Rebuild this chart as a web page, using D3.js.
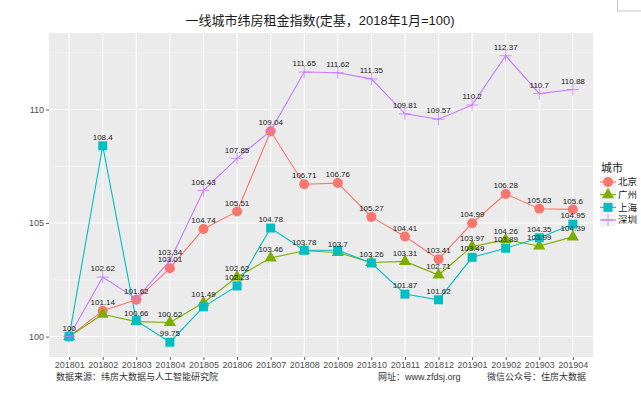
<!DOCTYPE html>
<html>
<head>
<meta charset="utf-8">
<script src="https://cdn.jsdelivr.net/npm/d3@7"></script>
<style>
  body { margin: 0; background: #fff; }
  svg { display: block; }
</style>
</head>
<body>
<svg id="drawspace" width="641" height="393"></svg>
<script>
let months = ["201801", "201802", "201803", "201804", "201805", "201806", "201807", "201808",
  "201809", "201810", "201811", "201812", "201901", "201902", "201903", "201904"];
let cities = ["北京", "广州", "上海", "深圳"];
let beijing = [100, 101.14, 101.62, 103.01, 104.74, 105.51, 109.04, 106.71, 106.76, 105.27, 104.41, 103.41, 104.99, 106.28, 105.63, 105.6];
let guangzhou = [100, 100.98, 100.66, 100.62, 101.49, 102.62, 103.46, 103.78, 103.7, 103.26, 103.31, 102.71, 103.97, 104.26, 103.99, 104.39];
let shanghai = [100, 108.4, 100.7, 99.75, 101.31, 102.23, 104.78, 103.8, 103.8, 103.24, 101.87, 101.62, 103.49, 103.89, 104.35, 104.95];
let shenzhen = [100, 102.62, 101.66, 103.34, 106.43, 107.85, 109.06, 111.65, 111.62, 111.35, 109.81, 109.57, 110.2, 112.37, 110.7, 110.88];
let yTicks = [100, 105, 110];
let yMinor = [102.5, 107.5, 112.5];
let colors = ["#F8766D", "#7CAE00", "#00BFC4", "#C77CFF"];
let shapes = ["circle", "triangle", "square", "plus"];

let seriesValues = [beijing, guangzhou, shanghai, shenzhen];
let series = cities.map((c, i) => ({
  city: c,
  color: colors[i],
  shape: shapes[i],
  values: seriesValues[i].map((v, j) => ({ month: months[j], value: v }))
}));

let svg = d3.select("#drawspace");
let panel = { left: 49, right: 593, top: 33, bottom: 357 };
let numFont = "'Liberation Sans', Arial, sans-serif";
let cjkFont = "'Liberation Sans', 'Noto Sans CJK SC', sans-serif";

let x = d3.scalePoint().domain(months).range([panel.left, panel.right]).padding(0.6);
let y = d3.scaleLinear().domain([99.1, 113.37]).range([panel.bottom, panel.top]);

// small box in the top right corner
svg.append("rect").attr("x", 617.5).attr("y", -1).attr("width", 30).attr("height", 12)
  .attr("fill", "none").attr("stroke", "#c8c8c8");

// title
svg.append("text").attr("x", 320).attr("y", 25).attr("text-anchor", "middle")
  .attr("font-family", cjkFont).attr("font-size", 13).attr("fill", "#1a1a1a")
  .text("一线城市纬房租金指数(定基，2018年1月=100)");

// panel + grid
svg.append("rect").attr("x", panel.left).attr("y", panel.top)
  .attr("width", panel.right - panel.left).attr("height", panel.bottom - panel.top)
  .attr("fill", "#EBEBEB");

let grid = svg.append("g");
grid.selectAll(".minor").data(yMinor).enter().append("line")
  .attr("x1", panel.left).attr("x2", panel.right)
  .attr("y1", (d) => y(d)).attr("y2", (d) => y(d))
  .attr("stroke", "#fff").attr("stroke-width", 0.5);
grid.selectAll(".major").data(yTicks).enter().append("line")
  .attr("x1", panel.left).attr("x2", panel.right)
  .attr("y1", (d) => y(d)).attr("y2", (d) => y(d))
  .attr("stroke", "#fff").attr("stroke-width", 1);
grid.selectAll(".vert").data(months).enter().append("line")
  .attr("x1", (d) => x(d)).attr("x2", (d) => x(d))
  .attr("y1", panel.top).attr("y2", panel.bottom)
  .attr("stroke", "#fff").attr("stroke-width", 1);

// axes
let yAxis = svg.append("g").attr("transform", "translate(" + panel.left + ",0)")
  .call(d3.axisLeft(y).tickValues(yTicks).tickSize(3).tickPadding(2).tickFormat(d3.format("d")));
let xAxis = svg.append("g").attr("transform", "translate(0," + panel.bottom + ")")
  .call(d3.axisBottom(x).tickSize(3).tickPadding(2));
[xAxis, yAxis].forEach((a) => {
  a.select(".domain").remove();
  a.selectAll(".tick line").attr("stroke", "#333").attr("stroke-width", 0.8);
  a.selectAll(".tick text").attr("fill", "#4D4D4D").attr("font-size", 9).attr("font-family", numFont);
});

// lines
let line = d3.line().x((d) => x(d.month)).y((d) => y(d.value));
svg.append("g").selectAll("path").data(series).enter().append("path")
  .attr("d", (d) => line(d.values))
  .attr("fill", "none")
  .attr("stroke", (d) => d.color)
  .attr("stroke-width", 1.1);

// point shapes
function drawShape(g, shape, color, cx, cy) {
  if (shape == "circle") {
    g.append("circle").attr("cx", cx).attr("cy", cy).attr("r", 5).attr("fill", color);
  } else if (shape == "triangle") {
    let r = 7;
    g.append("path")
      .attr("d", `M${cx},${cy - r} L${cx + r * 0.866},${cy + r / 2} L${cx - r * 0.866},${cy + r / 2} Z`)
      .attr("fill", color);
  } else if (shape == "square") {
    g.append("rect").attr("x", cx - 4.5).attr("y", cy - 4.5).attr("width", 9).attr("height", 9).attr("fill", color);
  } else {
    g.append("path")
      .attr("d", `M${cx - 6},${cy} H${cx + 6} M${cx},${cy - 6} V${cy + 6}`)
      .attr("stroke", color).attr("stroke-width", 0.8).attr("fill", "none");
  }
}

let pts = svg.append("g");
series.forEach((s) => {
  s.values.forEach((d) => drawShape(pts, s.shape, s.color, x(d.month), y(d.value)));
});

// value labels, skipping ones that overlap an earlier label
let labelG = svg.append("g");
let kept = [];
let nudge = 0.38;
series.forEach((s) => {
  s.values.forEach((d) => {
    let cx = x(d.month), cy = y(d.value + nudge);
    let t = labelG.append("text")
      .attr("x", cx).attr("y", cy).attr("dy", "0.35em")
      .attr("text-anchor", "middle")
      .attr("font-family", numFont).attr("font-size", 8).attr("fill", "#1a1a1a")
      .text(d3.format("")(+d.value.toFixed(2)));
    let w = t.node().getComputedTextLength();
    let box = { x0: cx - w / 2, x1: cx + w / 2, y0: cy - 3, y1: cy + 3 };
    let hit = kept.some((b) => box.x0 < b.x1 && box.x1 > b.x0 && box.y0 < b.y1 && box.y1 > b.y0);
    if (hit) t.remove();
    else kept.push(box);
  });
});

// legend
let legend = svg.append("g");
legend.append("text").attr("x", 601).attr("y", 172)
  .attr("font-family", cjkFont).attr("font-size", 11).attr("fill", "#1a1a1a").text("城市");
let keyY = d3.scalePoint().domain(cities).range([182, 220]);
series.forEach((s) => {
  let ky = keyY(s.city);
  legend.append("rect").attr("x", 600).attr("y", ky - 6.3).attr("width", 16).attr("height", 12.6).attr("fill", "#F2F2F2");
  legend.append("line").attr("x1", 600).attr("x2", 616).attr("y1", ky).attr("y2", ky)
    .attr("stroke", s.color).attr("stroke-width", 1.1);
  drawShape(legend, s.shape, s.color, 608, ky);
  legend.append("text").attr("x", 618).attr("y", ky).attr("dy", "0.35em")
    .attr("font-family", cjkFont).attr("font-size", 9.5).attr("fill", "#1a1a1a").text(s.city);
});

// captions
let cap = svg.append("g").attr("font-family", cjkFont).attr("font-size", 9).attr("fill", "#333");
cap.append("text").attr("x", 56).attr("y", 380).text("数据来源：纬房大数据与人工智能研究院");
cap.append("text").attr("x", 378).attr("y", 380).text("网址：www.zfdsj.org");
cap.append("text").attr("x", 487).attr("y", 380).text("微信公众号：住房大数据");
</script>
</body>
</html>
